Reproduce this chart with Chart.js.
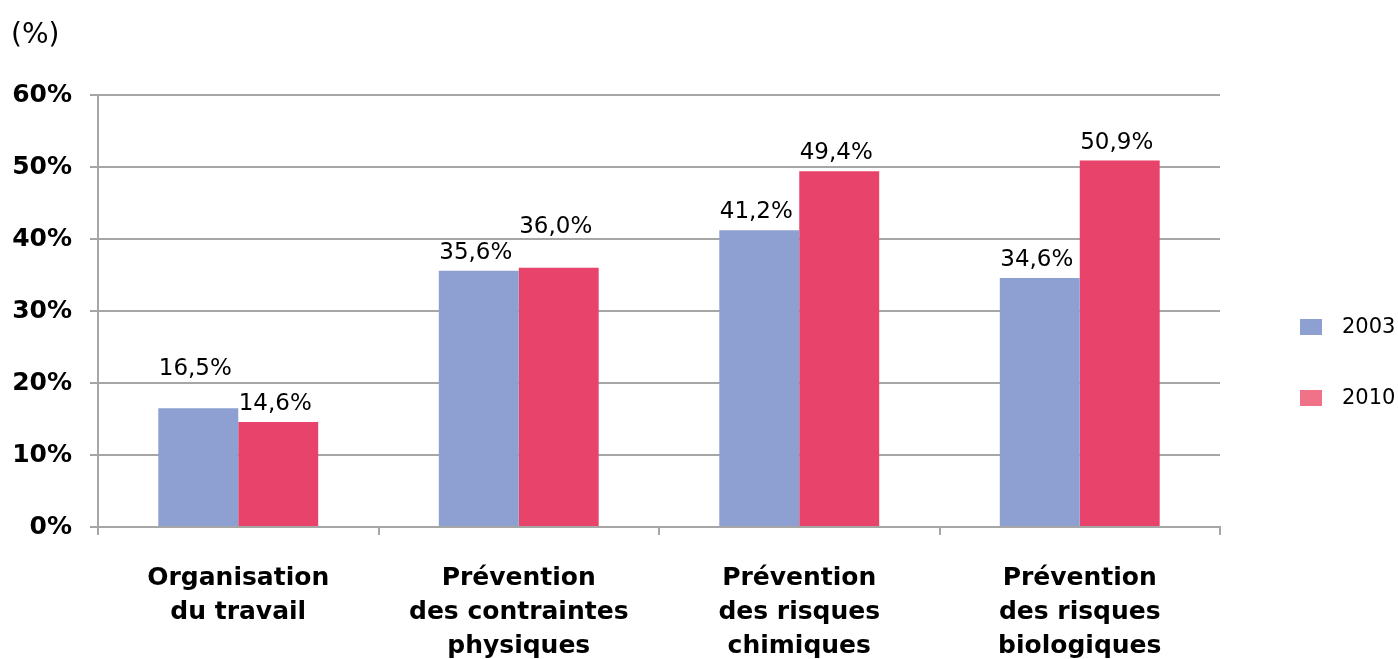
<!DOCTYPE html>
<html>
<head>
<meta charset="utf-8">
<script src="https://cdn.jsdelivr.net/npm/chart.js@4"></script>
<style>
    html, body { margin: 0; padding: 0; background: #fff; }
    #wrap { width: 1398px; height: 659px; position: relative; }
</style>
</head>
<body>
<div id="wrap"><canvas id="chart"></canvas></div>
<script>
/* Prévention — comparaison 2003 / 2010 */

const CATEGORIES = [
    ['Organisation', 'du travail'],
    ['Prévention', 'des contraintes', 'physiques'],
    ['Prévention', 'des risques', 'chimiques'],
    ['Prévention', 'des risques', 'biologiques'],
];
const SERIES_LABELS = ['2003', '2010'];
const VALUES_2003 = [16.5, 35.6, 41.2, 34.6];
const VALUES_2010 = [14.6, 36.0, 49.4, 50.9];
const Y_TICKS = [0, 10, 20, 30, 40, 50, 60];

const COLORS = {
    blue: '#8e9fd1',
    red: '#e8436a',
    redLegend: '#f07288',
    grid: '#a6a6a6',
    text: '#000000',
};
const FONT = "'DejaVu Sans', 'Liberation Sans', Arial, sans-serif";

// extra lift (px) for labels that would collide with the neighbour bar's label
const LABEL_LIFT = [[21, 0, 0, 0], [0, 23, 0, 0]];

const fmt = v => v.toFixed(1).replace('.', ',') + '%';

const valueLabels = {
    id: 'valueLabels',
    afterDatasetsDraw(chart) {
        const ctx = chart.ctx;
        ctx.save();
        ctx.font = '23px ' + FONT;
        ctx.fillStyle = COLORS.text;
        ctx.textAlign = 'center';
        ctx.textBaseline = 'alphabetic';
        chart.data.datasets.forEach((ds, di) => {
            chart.getDatasetMeta(di).data.forEach((bar, i) => {
                ctx.fillText(fmt(ds.data[i]), bar.x - 3, bar.y - 12 - LABEL_LIFT[di][i]);
            });
        });
        ctx.restore();
    },
};

const extras = {
    id: 'extras',
    afterDraw(chart) {
        const ctx = chart.ctx;
        ctx.save();
        ctx.fillStyle = COLORS.text;
        ctx.font = '28px ' + FONT;
        ctx.textBaseline = 'middle';
        ctx.textAlign = 'left';
        ctx.fillText('(%)', 11, 36);

        // legend on the right
        const swatch = [COLORS.blue, COLORS.redLegend];
        const rows = [327, 398];
        ctx.font = '21px ' + FONT;
        chart.data.datasets.forEach((ds, i) => {
            ctx.fillStyle = swatch[i];
            ctx.fillRect(1300, rows[i] - 8, 22, 16);
            ctx.fillStyle = COLORS.text;
            ctx.fillText(ds.label, 1342, rows[i] + 1);
        });
        ctx.restore();
    },
};

new Chart(document.getElementById('chart'), {
    type: 'bar',
    data: {
        labels: CATEGORIES,
        datasets: [
            {
                label: SERIES_LABELS[0],
                data: VALUES_2003,
                backgroundColor: COLORS.blue,
                categoryPercentage: 0.57,
                barPercentage: 1.0,
            },
            {
                label: SERIES_LABELS[1],
                data: VALUES_2010,
                backgroundColor: COLORS.red,
                categoryPercentage: 0.57,
                barPercentage: 1.0,
            },
        ],
    },
    options: {
        responsive: true,
        maintainAspectRatio: false,
        animation: false,
        layout: { padding: { top: 95, right: 178, left: 0, bottom: 0 } },
        scales: {
            x: {
                afterFit: s => { s.height = 132; },
                grid: {
                    drawOnChartArea: false,
                    drawTicks: true,
                    tickLength: 8,
                    color: COLORS.grid,
                    lineWidth: 2,
                    offset: true,
                },
                border: { color: COLORS.grid, width: 2 },
                ticks: {
                    color: COLORS.text,
                    padding: 26,
                    maxRotation: 0,
                    autoSkip: false,
                    font: { family: FONT, size: 25, weight: 'bold', lineHeight: 1.36 },
                },
            },
            y: {
                min: 0,
                max: 60,
                afterFit: s => { s.width = 98; },
                afterBuildTicks: s => { s.ticks = Y_TICKS.map(v => ({ value: v })); },
                grid: {
                    color: COLORS.grid,
                    lineWidth: 2,
                    tickLength: 8,
                },
                border: { color: COLORS.grid, width: 2 },
                ticks: {
                    color: COLORS.text,
                    padding: 18,
                    callback: v => v + '%',
                    font: { family: FONT, size: 25, weight: 'bold' },
                },
            },
        },
        plugins: {
            legend: { display: false },
            tooltip: { enabled: false },
        },
    },
    plugins: [valueLabels, extras],
});
</script>
</body>
</html>
